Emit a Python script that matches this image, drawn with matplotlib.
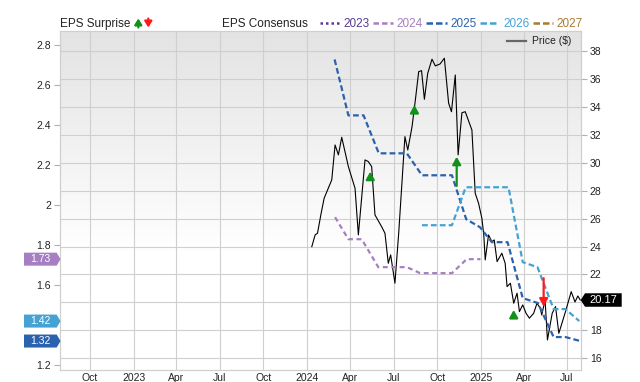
import numpy as np
import pandas as pd
import matplotlib
matplotlib.use('Agg')
import matplotlib.pyplot as plt
import matplotlib.dates as mdates
from matplotlib.lines import Line2D
from matplotlib.patches import Polygon
from matplotlib.transforms import IdentityTransform

plt.rcParams['font.family'] = ['Liberation Sans', 'DejaVu Sans']

W, H = 640, 382

# closing price ($)
price_dates = ['2024-01-11', '2024-01-18', '2024-01-23', '2024-01-30', '2024-02-06',
               '2024-02-22', '2024-02-29', '2024-03-07', '2024-03-14', '2024-03-28',
               '2024-04-11', '2024-04-18', '2024-05-02', '2024-05-09', '2024-05-16',
               '2024-05-23', '2024-06-06', '2024-06-13', '2024-06-20', '2024-06-25',
               '2024-07-04', '2024-07-12', '2024-07-25', '2024-07-31', '2024-08-09',
               '2024-08-16', '2024-08-23', '2024-08-29', '2024-09-04', '2024-09-11',
               '2024-09-20', '2024-09-27', '2024-10-07', '2024-10-16', '2024-10-25',
               '2024-10-31', '2024-11-08', '2024-11-14', '2024-11-22', '2024-11-29',
               '2024-12-13', '2024-12-20', '2024-12-27', '2025-01-03', '2025-01-07',
               '2025-01-10', '2025-01-17', '2025-01-24', '2025-01-29', '2025-02-04',
               '2025-02-14', '2025-02-21', '2025-02-25', '2025-03-04', '2025-03-11',
               '2025-03-18', '2025-03-23', '2025-03-30', '2025-04-06', '2025-04-13',
               '2025-04-22', '2025-04-29', '2025-05-06', '2025-05-09', '2025-05-16',
               '2025-05-21', '2025-05-31', '2025-06-07', '2025-06-14', '2025-06-28',
               '2025-07-10', '2025-07-18', '2025-07-24', '2025-07-29']
price = [23.99, 24.83, 24.95, 26.26, 27.46,
         28.77, 31.27, 30.56, 31.82, 29.72,
         28.17, 24.83, 30.20, 30.08, 29.72,
         26.26, 25.42, 24.95, 22.80, 23.40,
         21.37, 25.00, 31.87, 30.91, 32.58,
         34.49, 36.52, 36.59, 34.54, 36.40,
         37.41, 36.93, 37.07, 37.48, 34.26,
         33.65, 36.28, 30.56, 33.58, 33.65,
         32.34, 27.81, 27.10, 26.02, 24.83,
         23.04, 24.83, 24.35, 24.47, 22.92,
         23.52, 22.80, 21.13, 21.37, 19.94,
         20.66, 19.34, 19.82, 19.22, 18.87,
         19.22, 19.94, 19.58, 19.10, 20.18,
         17.31, 19.22, 19.70, 17.79, 19.34,
         20.77, 20.03, 20.46, 20.17]

# EPS consensus by fiscal year
eps24_dates = ['2024-02-29', '2024-03-28', '2024-04-25', '2024-05-30', '2024-07-29',
               '2024-08-26', '2024-11-01', '2024-12-02', '2024-12-31']
eps24 = [1.94, 1.83, 1.83, 1.69, 1.69, 1.66, 1.66, 1.73, 1.73]

eps25_dates = ['2024-02-28', '2024-03-28', '2024-04-29', '2024-05-31', '2024-07-29',
               '2024-08-30', '2024-11-01', '2024-12-01', '2024-12-30', '2025-01-24',
               '2025-02-26', '2025-03-30', '2025-05-01', '2025-06-03', '2025-06-28',
               '2025-07-29']
eps25 = [2.73, 2.45, 2.45, 2.26, 2.26, 2.15, 2.15, 1.93, 1.89, 1.815,
         1.815, 1.535, 1.51, 1.34, 1.34, 1.32]

eps26_dates = ['2024-08-30', '2024-11-01', '2024-11-30', '2025-02-28', '2025-03-30',
               '2025-04-30', '2025-06-03', '2025-06-28', '2025-07-27']
eps26 = [1.90, 1.90, 2.09, 2.09, 1.715, 1.69, 1.48, 1.48, 1.42]

# EPS surprise arrows (price axis): head and tail
surprise_dates = ['2024-05-13', '2024-08-14', '2024-11-11', '2025-03-11', '2025-05-13']
surprise_head = [29.36, 34.13, 30.43, 19.46, 19.70]
surprise_tail = [28.80, 33.58, 28.34, 18.90, 21.73]

x_ticks = ['2022-10-01', '2023-01-01', '2023-04-01', '2023-07-01', '2023-10-01',
           '2024-01-01', '2024-04-01', '2024-07-01', '2024-10-01', '2025-01-01',
           '2025-04-01', '2025-07-01']
x_labels = ['Oct', '2023', 'Apr', 'Jul', 'Oct', '2024', 'Apr', 'Jul', 'Oct', '2025',
            'Apr', 'Jul']
eps_ticks = [1.2, 1.6, 1.8, 2.0, 2.2, 2.4, 2.6, 2.8]
eps_labels = ['1.2', '1.6', '1.8', '2', '2.2', '2.4', '2.6', '2.8']
price_ticks = list(range(16, 40, 2))
# the 20 label sits under the last-price tag
price_labels = ['' if v == 20 else str(v) for v in price_ticks]

year_labels = ['2023', '2024', '2025', '2026', '2027']
year_colors = ['#5b3a8f', '#a67fc2', '#2a62ad', '#45a2d2', '#a87a32']

grid_c = '#cfcfcf'
txt_c = '#222222'

fig = plt.figure(figsize=(W / 100, H / 100), dpi=100)
ax = fig.add_axes([60 / W, 1 - 370 / H, (580.7 - 60) / W, (370 - 30.7) / H])

# grey-to-white background
grad = np.linspace(0, 1, 256)
grad = np.clip((grad - 0.35) / 0.65, 0, 1)[:, None]
ax.imshow(grad, extent=[0, 1, 0, 1], transform=ax.transAxes, origin='lower',
          cmap=matplotlib.colors.LinearSegmentedColormap.from_list('bg', ['#ffffff', '#e3e3e3']),
          aspect='auto', zorder=0, interpolation='bicubic')

xd = pd.to_datetime
ax.plot(xd(price_dates), price, color='black', lw=0.8, zorder=3)
ax.set_xlim(xd('2022-07-30'), xd('2025-07-30'))
ax.set_ylim(15.16, 39.45)

ax2 = ax.twinx()
ax.yaxis.tick_right()
ax2.yaxis.tick_left()

ax.set_yticks(price_ticks)
ax.set_yticklabels(price_labels)
ax.set_xticks(xd(x_ticks))
ax.set_xticklabels(x_labels)
ax.grid(True, color=grid_c, lw=0.8, zorder=1)
ax.tick_params(axis='x', length=0, pad=2, labelsize=7.5, labelcolor=txt_c)
ax.tick_params(axis='y', length=4, width=0.8, color='#b0b0b0', pad=2.5,
               labelsize=7.5, labelcolor=txt_c)

ax2.set_ylim(1.175, 2.874)
ax2.set_yticks(eps_ticks)
ax2.set_yticklabels(eps_labels)
ax2.tick_params(axis='y', length=4, width=0.8, color='#b0b0b0', pad=2.5,
                labelsize=7.5, labelcolor=txt_c)
ax2.plot(xd(eps24_dates), eps24, color=year_colors[1], lw=1.6, dashes=(2.2, 1.6))
ax2.plot(xd(eps25_dates), eps25, color=year_colors[2], lw=1.6, dashes=(2.6, 1.4))
ax2.plot(xd(eps26_dates), eps26, color=year_colors[3], lw=1.6, dashes=(2.6, 1.4))

for a in (ax, ax2):
    for s in a.spines.values():
        s.set_color(grid_c)
        s.set_linewidth(0.8)

# surprise arrows
for d, hd, tl in zip(surprise_dates, surprise_head, surprise_tail):
    c = '#11901a' if hd > tl else '#ff1a1a'
    xn = mdates.date2num(xd(d))
    ax2.annotate('', xy=(xn, hd), xytext=(xn, tl),
                 xycoords=ax.transData, textcoords=ax.transData,
                 arrowprops=dict(arrowstyle='-|>,head_width=0.25,head_length=0.45',
                                 color=c, lw=1.6, shrinkA=0, shrinkB=0,
                                 mutation_scale=10), zorder=6)

ident = IdentityTransform()


def tag(x0, x1, xtip, yc, h, color, text, size):
    if xtip > x1:
        pts = [(x0, yc - h / 2), (x1, yc - h / 2), (xtip, yc), (x1, yc + h / 2), (x0, yc + h / 2)]
    else:
        pts = [(xtip, yc), (x0, yc - h / 2), (x1, yc - h / 2), (x1, yc + h / 2), (x0, yc + h / 2)]
    fig.add_artist(Polygon(pts, closed=True, transform=ident, facecolor=color,
                           edgecolor='none', zorder=10))
    fig.text((x0 + x1) / 2, yc, text, transform=ident,
             color='white', fontsize=size, ha='center', va='center', zorder=11)


# current consensus tags on the left axis
for val, col in [(eps24[-1], year_colors[1]), (eps26[-1], year_colors[3]),
                 (eps25[-1], year_colors[2])]:
    yc = ax2.transData.transform((0, val))[1]
    tag(24, 56.7, 60.5, yc, 13, col, f'{val:.2f}', 7.5)

# last price tag on the right axis
yc = ax.transData.transform((0, price[-1]))[1]
tag(585, 621.7, 580.7, yc, 13.5, 'black', f'{price[-1]:.2f}', 8)

# header: EPS Surprise
base = H - 26.7
fig.text(60 / W, base / H, 'EPS Surprise', fontsize=8.5, color=txt_c, va='baseline')
ax.annotate('', xy=(138.3, H - 18.5), xytext=(138.3, H - 27.5), xycoords='figure pixels',
            textcoords='figure pixels',
            arrowprops=dict(arrowstyle='-|>,head_width=0.22,head_length=0.35', color='#11901a',
                            lw=1.6, shrinkA=0, shrinkB=0, mutation_scale=10), annotation_clip=False)
ax.annotate('', xy=(148.3, H - 27.5), xytext=(148.3, H - 18.5), xycoords='figure pixels',
            textcoords='figure pixels',
            arrowprops=dict(arrowstyle='-|>,head_width=0.22,head_length=0.35', color='#ff1a1a',
                            lw=1.6, shrinkA=0, shrinkB=0, mutation_scale=10), annotation_clip=False)

# header: EPS Consensus legend
fig.text(222 / W, base / H, 'EPS Consensus', fontsize=8.5, color=txt_c, va='baseline')
leg_x = [(319.7, 340, 343.4), (373, 393.4, 396.7), (426, 446.7, 450),
         (479.5, 498, 503), (532.8, 553, 556.6)]
leg_dash = [(1, 1.2), (2.2, 1.2), (2.6, 1.2), (2.6, 1.2), (2.6, 1.2)]
ly = (H - 23) / H
for (x0, x1, xt), lab, col, ds in zip(leg_x, year_labels, year_colors, leg_dash):
    fig.add_artist(Line2D([x0 / W, x1 / W], [ly, ly], color=col, lw=1.8, dashes=ds,
                          transform=fig.transFigure))
    fig.text(xt / W, base / H, lab, fontsize=8.5, color=col, va='baseline')

# Price legend inside plot
py = (H - 41) / H
fig.add_artist(Line2D([506.7 / W, 526 / W], [py, py], color='#666666', lw=1.6,
                      transform=fig.transFigure))
fig.text(532.3 / W, py, 'Price ($)', fontsize=7.5, color=txt_c, va='center')

fig.savefig('out.png', dpi=100)
